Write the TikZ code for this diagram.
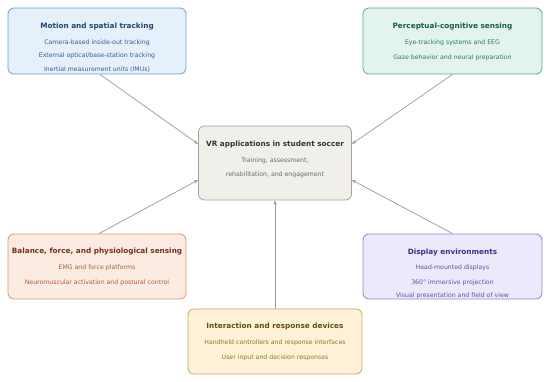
\documentclass[tikz,border=0pt]{standalone}
\usepackage{fontspec}
\setmainfont{DejaVu Sans}
\usetikzlibrary{arrows.meta,calc}
\definecolor{mfill}{HTML}{E6F0FA}\definecolor{mdraw}{HTML}{6A9FD4}\definecolor{mtitle}{HTML}{1F4770}\definecolor{mtext}{HTML}{2F5F92}
\definecolor{pfill}{HTML}{E2F4ED}\definecolor{pdraw}{HTML}{5AAA8C}\definecolor{ptitle}{HTML}{1D5A46}\definecolor{ptext}{HTML}{2D7A60}
\definecolor{cfill}{HTML}{F0EFEA}\definecolor{cdraw}{HTML}{A6A298}\definecolor{ctitle}{HTML}{333333}\definecolor{ctext}{HTML}{6A6A6A}
\definecolor{bfill}{HTML}{FCEBE3}\definecolor{bdraw}{HTML}{DF9468}\definecolor{btitle}{HTML}{76301A}\definecolor{btext}{HTML}{B35A35}
\definecolor{dfill}{HTML}{ECE9FB}\definecolor{ddraw}{HTML}{8C84D2}\definecolor{dtitle}{HTML}{3A3188}\definecolor{dtext}{HTML}{5E52AE}
\definecolor{ifill}{HTML}{FDF2D8}\definecolor{idraw}{HTML}{CAA760}\definecolor{ititle}{HTML}{6A4A12}\definecolor{itext}{HTML}{987022}
\definecolor{arrc}{HTML}{999999}
\begin{document}
\begin{tikzpicture}[x=1pt,y=-1pt,
  box/.style={rounded corners=6pt, line width=0.8pt, inner sep=0pt},
  ttl/.style={font=\fontsize{7.3}{9}\selectfont\bfseries, inner sep=0pt, yshift=-1.2pt},
  txt/.style={font=\fontsize{6.2}{7.5}\selectfont, inner sep=0pt, yshift=-1.2pt},
  arr/.style={draw=arrc, line width=0.7pt, -{Stealth[length=4.5pt,width=3.5pt]}}]
\useasboundingbox (0,0) rectangle (550,382);
% boxes
\node[box, draw=mdraw, fill=mfill, minimum width=178pt, minimum height=66pt] (m) at (97,41) {};
\node[box, draw=pdraw, fill=pfill, minimum width=179pt, minimum height=66pt] (p) at (452.5,41) {};
\node[box, draw=cdraw, fill=cfill, minimum width=153pt, minimum height=74pt] (c) at (275,163) {};
\node[box, draw=bdraw, fill=bfill, minimum width=178pt, minimum height=65pt] (b) at (97,266.5) {};
\node[box, draw=ddraw, fill=dfill, minimum width=179pt, minimum height=65pt] (d) at (452.5,266.5) {};
\node[box, draw=idraw, fill=ifill, minimum width=174pt, minimum height=65pt] (i) at (275,341.5) {};
% texts
\node[ttl, text=mtitle] (m0) at (97,25) {Motion and spatial tracking};
\node[txt, text=mtext] (m1) at (97,42) {Camera-based inside-out tracking};
\node[txt, text=mtext] (m2) at (97,55) {External optical/base-station tracking};
\node[txt, text=mtext] (m3) at (97,68) {Inertial measurement units (IMUs)};
\node[ttl, text=ptitle] (p0) at (452.5,25) {Perceptual-cognitive sensing};
\node[txt, text=ptext] (p1) at (452.5,42) {Eye-tracking systems and EEG};
\node[txt, text=ptext] (p2) at (452.5,57) {Gaze behavior and neural preparation};
\node[ttl, text=ctitle] (c0) at (275,143) {VR applications in student soccer};
\node[txt, text=ctext] (c1) at (275,160) {Training, assessment,};
\node[txt, text=ctext] (c2) at (275,174) {rehabilitation, and engagement};
\node[ttl, text=btitle] (b0) at (97,250) {Balance, force, and physiological sensing};
\node[txt, text=btext] (b1) at (97,267) {EMG and force platforms};
\node[txt, text=btext] (b2) at (97,282) {Neuromuscular activation and postural control};
\node[ttl, text=dtitle] (d0) at (452.5,251) {Display environments};
\node[txt, text=dtext] (d1) at (452.5,267) {Head-mounted displays};
\node[txt, text=dtext] (d2) at (452.5,282) {360° immersive projection};
\node[txt, text=dtext] (d3) at (452.5,295) {Visual presentation and field of view};
\node[ttl, text=ititle] (i0) at (275,325) {Interaction and response devices};
\node[txt, text=itext] (i1) at (275,342) {Handheld controllers and response interfaces};
\node[txt, text=itext] (i2) at (275,357) {User input and decision responses};
% connectors
\draw[arr] ([xshift=3pt]m.south) -- ([yshift=19pt]c.west);
\draw[arr] (p.south) -- ([yshift=19pt]c.east);
\draw[arr] ([xshift=2pt]b.north) -- ([yshift=-17pt]c.west);
\draw[arr] (d.north) -- ([yshift=-17pt]c.east);
\draw[arr] (i.north) -- (c.south);
\end{tikzpicture}
\end{document}
